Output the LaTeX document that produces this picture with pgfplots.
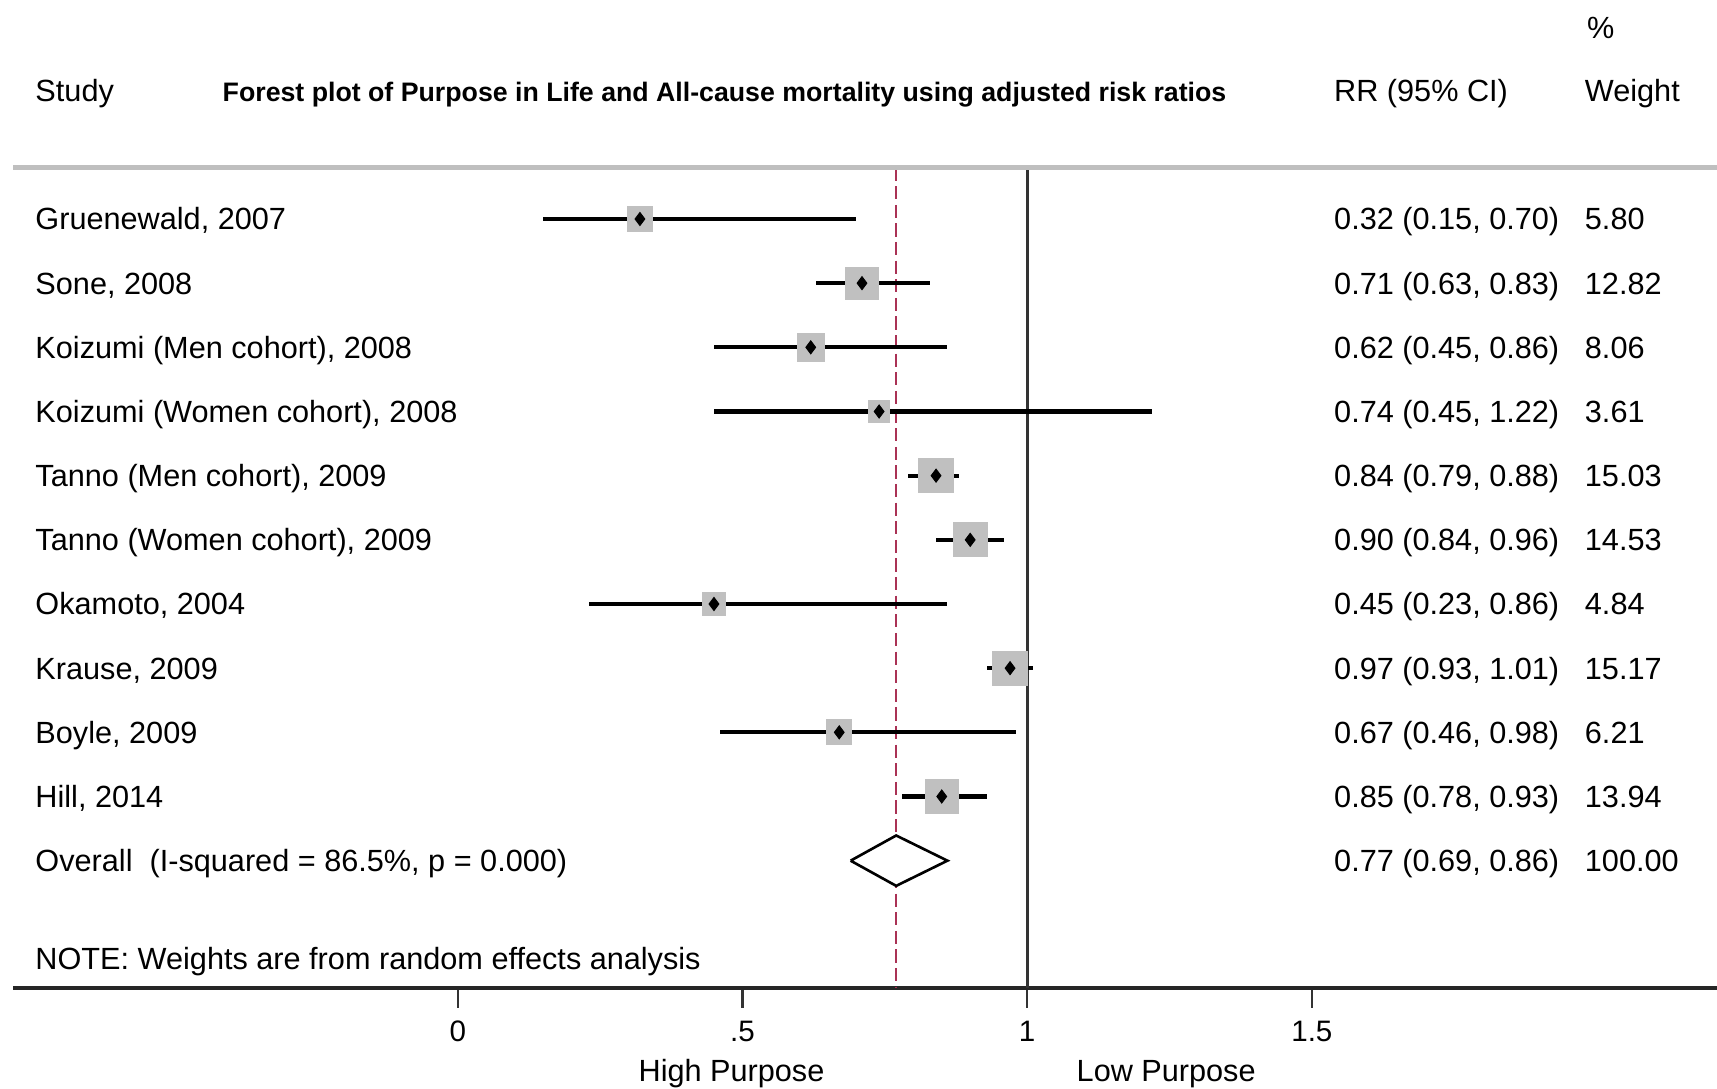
\documentclass[border=0pt]{standalone}
\usepackage{pgfplots}
\pgfplotsset{compat=1.18}
\usepackage{pgfplotstable}
\usepackage{fontspec}
\setmainfont{Liberation Sans}
\definecolor{refred}{RGB}{170,50,85}
\definecolor{boxgray}{RGB}{192,192,192}

\pgfplotstableread{
rr   lo   hi   w     row
0.32 0.15 0.70 5.80  -200
0.71 0.63 0.83 12.82 -258.6
0.62 0.45 0.86 8.06  -317.2
0.74 0.45 1.22 3.61  -375.8
0.84 0.79 0.88 15.03 -434.4
0.90 0.84 0.96 14.53 -493
0.45 0.23 0.86 4.84  -551.6
0.97 0.93 1.01 15.17 -610.2
0.67 0.46 0.98 6.21  -668.8
0.85 0.78 0.93 13.94 -727.4
}\studies

\newcommand{\rowfont}{\fontsize{14}{16}\selectfont}
\tikzset{
  lab/.style={anchor=west, inner sep=0pt, text height=10pt, text depth=0pt},
  clab/.style={anchor=center, inner sep=0pt, text height=10pt, text depth=0pt},
}

\begin{document}
\begin{tikzpicture}[font=\rowfont]
\begin{axis}[
  width=778pt, height=451pt, scale only axis,
  xmin=-0.78077, xmax=2.21154,
  ymin=-902, ymax=0,
  axis x line*=bottom, axis y line=none,
  axis line style={line width=2pt, black!85},
  xtick={0,0.5,1,1.5}, xticklabels={0,.5,1,1.5},
  ytick=\empty,
  tick align=outside, major tick length=9.25pt,
  tick style={black!80, line width=1pt},
  xticklabel style={font=\fontsize{13.5}{15}\selectfont, yshift=-2.5pt},
  clip=false,
]
% reference lines
\addplot[black!80, line width=1.5pt] coordinates {(1,-153) (1,-902)};
\addplot[refred, line width=1.1pt, dash pattern=on 6pt off 2.5pt] coordinates {(0.77,-153) (0.77,-902)};
% weight boxes
\addplot[scatter, only marks, mark=square*,
  scatter/use mapped color={draw=boxgray, fill=boxgray},
  visualization depends on={2+1.5*sqrt(\thisrow{w}) \as \msize},
  scatter/@pre marker code/.append style={/tikz/mark size=\msize}]
  table[x=rr, y=row] {\studies};
% CIs and point estimates
\addplot[only marks, mark=diamond*, mark size=3pt, black,
  error bars/.cd, x dir=both, x explicit,
  error bar style={line width=1.9pt, black}, error mark=none]
  table[x=rr, y=row,
        x error plus expr=\thisrow{hi}-\thisrow{rr},
        x error minus expr=\thisrow{rr}-\thisrow{lo}] {\studies};
% overall diamond
\addplot[black, line width=1.2pt, fill=white, line join=miter, mark=none]
  coordinates {(0.69,-786) (0.77,-763) (0.86,-786) (0.77,-809) (0.69,-786)};

% top rule
\draw[black!25, line width=2.2pt] (axis cs:-0.78077,-153) -- (axis cs:2.21154,-153);

% headers
\node[lab] at (axis cs:-0.7423,-83) {Study};
\node[lab, text height=8.7pt, font=\bfseries\fontsize{12.2}{14}\selectfont] at (axis cs:-0.4135,-84)
  {Forest plot of Purpose in Life and All-cause mortality using adjusted risk ratios};
\node[lab] at (axis cs:1.5385,-83) {RR (95\% CI)};
\node[lab] at (axis cs:1.9788,-83) {Weight};
\node[lab] at (axis cs:1.9827,-25) {\%};

% study labels
\node[lab] at (axis cs:-0.7423,-200)   {Gruenewald, 2007};
\node[lab] at (axis cs:-0.7423,-258.6) {Sone, 2008};
\node[lab] at (axis cs:-0.7423,-317.2) {Koizumi (Men cohort), 2008};
\node[lab] at (axis cs:-0.7423,-375.8) {Koizumi (Women cohort), 2008};
\node[lab] at (axis cs:-0.7423,-434.4) {Tanno (Men cohort), 2009};
\node[lab] at (axis cs:-0.7423,-493)   {Tanno (Women cohort), 2009};
\node[lab] at (axis cs:-0.7423,-551.6) {Okamoto, 2004};
\node[lab] at (axis cs:-0.7423,-610.2) {Krause, 2009};
\node[lab] at (axis cs:-0.7423,-668.8) {Boyle, 2009};
\node[lab] at (axis cs:-0.7423,-727.4) {Hill, 2014};
\node[lab] at (axis cs:-0.7423,-786)   {Overall\ \ (I-squared = 86.5\%, p = 0.000)};
\node[lab] at (axis cs:-0.7423,-875)   {NOTE: Weights are from random effects analysis};

% RR column
\node[lab] at (axis cs:1.5385,-200)   {0.32 (0.15, 0.70)};
\node[lab] at (axis cs:1.5385,-258.6) {0.71 (0.63, 0.83)};
\node[lab] at (axis cs:1.5385,-317.2) {0.62 (0.45, 0.86)};
\node[lab] at (axis cs:1.5385,-375.8) {0.74 (0.45, 1.22)};
\node[lab] at (axis cs:1.5385,-434.4) {0.84 (0.79, 0.88)};
\node[lab] at (axis cs:1.5385,-493)   {0.90 (0.84, 0.96)};
\node[lab] at (axis cs:1.5385,-551.6) {0.45 (0.23, 0.86)};
\node[lab] at (axis cs:1.5385,-610.2) {0.97 (0.93, 1.01)};
\node[lab] at (axis cs:1.5385,-668.8) {0.67 (0.46, 0.98)};
\node[lab] at (axis cs:1.5385,-727.4) {0.85 (0.78, 0.93)};
\node[lab] at (axis cs:1.5385,-786)   {0.77 (0.69, 0.86)};

% weight column
\node[lab] at (axis cs:1.9788,-200)   {5.80};
\node[lab] at (axis cs:1.9788,-258.6) {12.82};
\node[lab] at (axis cs:1.9788,-317.2) {8.06};
\node[lab] at (axis cs:1.9788,-375.8) {3.61};
\node[lab] at (axis cs:1.9788,-434.4) {15.03};
\node[lab] at (axis cs:1.9788,-493)   {14.53};
\node[lab] at (axis cs:1.9788,-551.6) {4.84};
\node[lab] at (axis cs:1.9788,-610.2) {15.17};
\node[lab] at (axis cs:1.9788,-668.8) {6.21};
\node[lab] at (axis cs:1.9788,-727.4) {13.94};
\node[lab] at (axis cs:1.9788,-786)   {100.00};

% x-axis side labels
\node[clab] at (axis cs:0.4808,-978) {High Purpose};
\node[clab] at (axis cs:1.2442,-978) {Low Purpose};

\coordinate (bbA) at (axis cs:-0.80385,0);
\coordinate (bbB) at (axis cs:2.21154,-994);
\end{axis}
\pgfresetboundingbox
\path[use as bounding box] (bbA) rectangle (bbB);
\end{tikzpicture}
\end{document}
